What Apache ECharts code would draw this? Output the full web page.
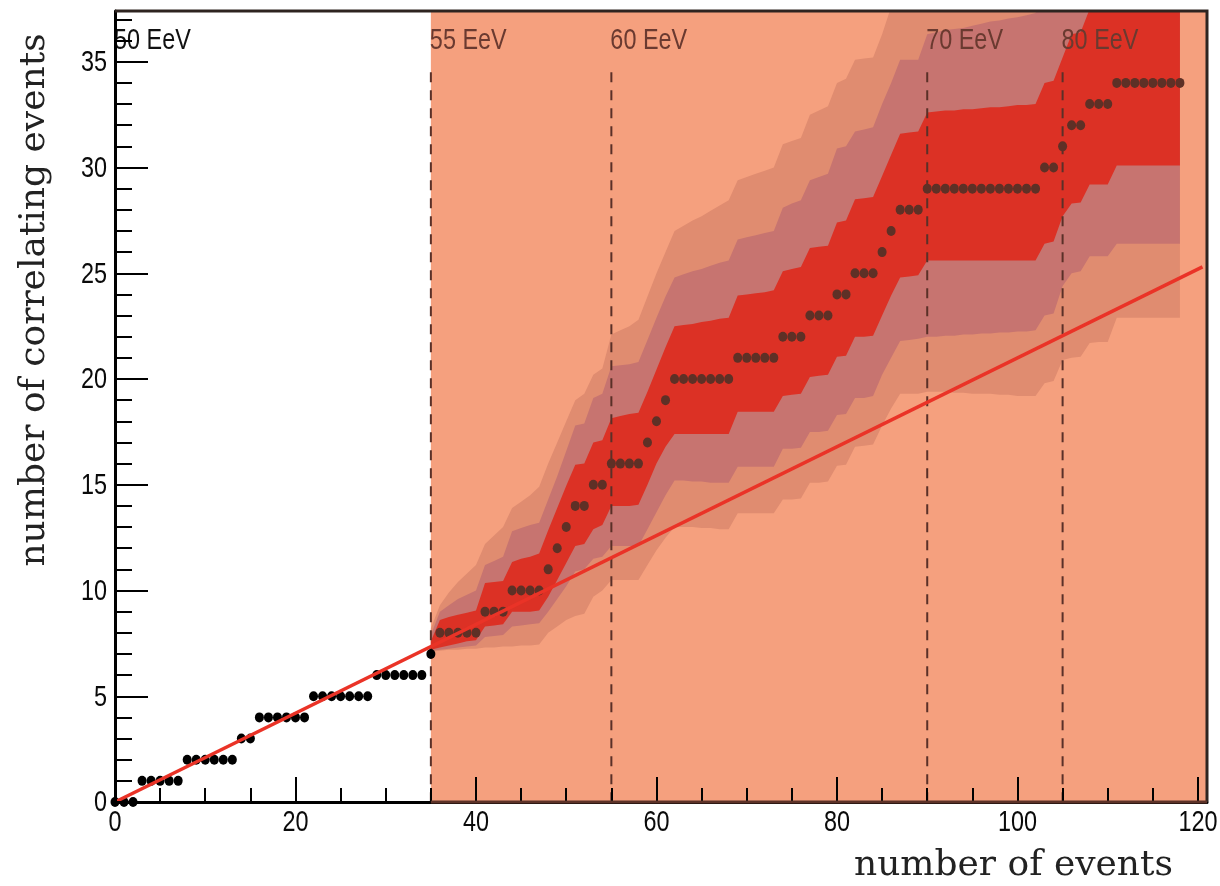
<!DOCTYPE html>
<html>
<head>
<meta charset="utf-8">
<script src="https://cdn.jsdelivr.net/npm/echarts@6/dist/echarts.min.js"></script>
<style>
  html, body { margin: 0; padding: 0; background: #ffffff; }
  #chart { width: 1220px; height: 886px; }
</style>
</head>
<body>
<div id="chart"></div>
<script>
// Axis extents
const xMax = 121;
const yMax = 37.4;

// Tick label values
const xTickValues = [0, 20, 40, 60, 80, 100, 120];
const yTickValues = [0, 5, 10, 15, 20, 25, 30, 35];

// Cumulative number of correlating events after N events (N = 0 .. 118)
const correlating = [
  0, 0, 0,
  1, 1, 1, 1, 1,
  2, 2, 2, 2, 2, 2,
  3, 3,
  4, 4, 4, 4, 4, 4,
  5, 5, 5, 5, 5, 5, 5,
  6, 6, 6, 6, 6, 6,
  7,
  8, 8, 8, 8, 8,
  9, 9, 9,
  10, 10, 10, 10,
  11, 12, 13,
  14, 14,
  15, 15,
  16, 16, 16, 16,
  17, 18, 19,
  20, 20, 20, 20, 20, 20, 20,
  21, 21, 21, 21, 21,
  22, 22, 22,
  23, 23, 23,
  24, 24,
  25, 25, 25,
  26, 27,
  28, 28, 28,
  29, 29, 29, 29, 29, 29, 29, 29, 29, 29, 29, 29, 29,
  30, 30,
  31,
  32, 32,
  33, 33, 33,
  34, 34, 34, 34, 34, 34, 34, 34
];

// Confidence bands, one value per event from N = 35 to N = 118
const bandStart = 35;
const innerUpper = [
  7.6,
  8.6, 8.75, 8.85, 8.95, 9.05,
  10.35, 10.4, 10.45,
  11.35, 11.5, 11.6, 11.75,
  12.85, 13.9, 14.95,
  15.95, 16.0,
  17.0, 17.1,
  18.15, 18.25, 18.35, 18.4,
  19.4, 20.45, 21.5,
  22.5, 22.55, 22.6, 22.7, 22.75, 22.85, 22.9,
  23.95, 24.0, 24.05, 24.1, 24.2,
  25.1, 25.2, 25.3,
  26.2, 26.25, 26.3,
  27.4, 27.5,
  28.5, 28.55, 28.6,
  29.6, 30.6,
  31.6, 31.65, 31.7,
  32.6, 32.65, 32.7, 32.7, 32.75, 32.75, 32.8, 32.85, 32.85, 32.9, 32.95, 32.95, 33.0,
  34.0, 34.1,
  35.2,
  36.3, 36.4,
  37.5, 37.6, 37.7,
  38.8, 38.9, 39.0, 39.1, 39.2, 39.3, 39.4, 39.5
];
const innerLower = [
  7.2,
  7.3, 7.4, 7.5, 7.6, 7.65,
  8.3, 8.35, 8.4,
  9.0, 9.0, 9.0, 9.05,
  9.7, 10.5, 11.3,
  12.1, 12.2,
  12.9, 13.1,
  14.0, 14.0, 14.0, 14.05,
  15.0, 16.0, 16.8,
  17.4, 17.4, 17.4, 17.4, 17.4, 17.4, 17.4,
  18.45, 18.45, 18.45, 18.45, 18.45,
  19.2, 19.25, 19.3,
  20.1, 20.15, 20.2,
  21.05, 21.1,
  22.0, 22.0, 22.05,
  23.0, 23.95,
  24.8, 24.85, 24.9,
  25.6, 25.6, 25.6, 25.6, 25.6, 25.6, 25.6, 25.6, 25.6, 25.6, 25.6, 25.6, 25.6,
  26.4, 26.5,
  27.7,
  28.3, 28.35,
  29.2, 29.2, 29.2,
  30.1, 30.1, 30.1, 30.1, 30.1, 30.1, 30.1, 30.1
];
const midUpper = [
  7.9,
  9.0, 9.3, 9.6, 9.8, 10.0,
  11.2, 11.4, 11.6,
  12.8, 12.95, 13.1, 13.2,
  14.3, 15.4, 16.6,
  17.8, 17.9,
  19.1, 19.3,
  20.6, 20.65, 20.7, 20.8,
  21.85, 22.9, 23.9,
  24.8, 24.95, 25.1, 25.2, 25.35, 25.5, 25.6,
  26.6, 26.7, 26.8, 26.9, 27.0,
  28.1, 28.3, 28.45,
  29.4, 29.55, 29.7,
  30.9, 31.0,
  31.7, 31.8, 31.9,
  33.0, 34.0,
  35.1, 35.1, 35.1,
  36.3, 36.4, 36.5, 36.55, 36.6, 36.7, 36.8, 36.9, 36.95, 37.05, 37.1, 37.2, 37.3,
  38.4, 38.5,
  39.6,
  40.7, 40.8,
  41.9, 42.0, 42.1,
  43.0, 43.0, 43.0, 43.0, 43.0, 43.0, 43.0, 43.0
];
const midLower = [
  7.15,
  7.2, 7.25, 7.3, 7.35, 7.4,
  7.8, 7.85, 7.9,
  8.3, 8.35, 8.4, 8.45,
  9.0, 9.6, 10.2,
  10.9, 11.0,
  11.5, 11.6,
  12.1, 12.1, 12.1, 12.1,
  12.9, 13.7, 14.5,
  15.2, 15.2, 15.15, 15.15, 15.1, 15.1, 15.1,
  15.85, 15.85, 15.85, 15.85, 15.85,
  16.7, 16.7, 16.75,
  17.5, 17.5, 17.55,
  18.3, 18.35,
  19.1, 19.1, 19.2,
  20.2, 21.0,
  21.8, 21.85, 21.9,
  22.0, 22.0, 22.05, 22.05, 22.1, 22.1, 22.15, 22.15, 22.2, 22.2, 22.25, 22.25, 22.3,
  23.0, 23.1,
  24.4,
  25.0, 25.1,
  25.8, 25.8, 25.8,
  26.4, 26.4, 26.4, 26.4, 26.4, 26.4, 26.4, 26.4
];
const outerUpper = [
  8.2,
  9.3, 9.9, 10.4, 10.8, 11.2,
  12.2, 12.6, 13.0,
  13.9, 14.2, 14.5, 14.9,
  16.0, 17.0, 18.0,
  19.0, 19.3,
  20.2, 20.5,
  22.1, 22.3, 22.5, 22.8,
  23.9, 25.0, 26.0,
  27.0, 27.25, 27.5, 27.7, 27.95, 28.2, 28.45,
  29.4, 29.55, 29.7, 29.85, 30.0,
  31.1, 31.25, 31.4,
  32.5, 32.7, 32.9,
  34.0, 34.2,
  35.1, 35.15, 35.2,
  36.3, 37.6,
  38.7, 38.8, 38.9,
  40, 40, 40, 40, 40, 40, 40, 40, 40, 40, 40, 40, 40,
  41, 41,
  41,
  41, 41,
  41, 41, 41,
  41, 41, 41, 41, 41, 41, 41, 41
];
const outerLower = [
  7.1,
  7.15, 7.2, 7.2, 7.25, 7.25,
  7.3, 7.3, 7.35,
  7.35, 7.4, 7.4, 7.45,
  8.0, 8.3, 8.6,
  8.8, 8.9,
  9.7, 10.0,
  10.5, 10.5, 10.5, 10.5,
  11.2, 11.9, 12.5,
  13.0, 13.0, 13.0, 12.95, 12.95, 12.9, 12.9,
  13.65, 13.65, 13.65, 13.65, 13.65,
  14.3, 14.3, 14.35,
  15.1, 15.1, 15.15,
  15.9, 15.95,
  16.8, 16.85, 16.9,
  17.8, 18.6,
  19.3, 19.3, 19.3,
  19.4, 19.4, 19.4, 19.35, 19.35, 19.3, 19.3, 19.3, 19.25, 19.25, 19.2, 19.2, 19.2,
  19.8, 19.9,
  20.9,
  21.0, 21.05,
  21.7, 21.75, 21.75,
  22.9, 22.9, 22.9, 22.9, 22.9, 22.9, 22.9, 22.9
];

// Isotropic expectation line (end points)
const isoLine = [[0, 0], [120.5, 25.3]];

// Energy thresholds: event number where each cut begins
const thresholdX = [0, 35, 55, 90, 105];
const thresholdLabels = ['50 EeV', '55 EeV', '60 EeV', '70 EeV', '80 EeV'];

// Condensed sans for numbers, serif for axis titles
const numFont = "'Liberation Sans', Arial, Helvetica, sans-serif";
const numSize = 30;
const numSqueeze = 0.78;
const titleFont = "'DejaVu Serif', 'Liberation Serif', serif";

const colors = {
  scanRegion: '#f5a07e',
  outer: '#e08c70',
  mid: '#c77470',
  inner: '#dc3125',
  fit: '#ea3327',
  dotsBefore: '#000000',
  dotsAfter: '#5e3026',
  dash: '#5a3028',
  labelAfter: '#6a3a30',
  axis: '#000000',
  axisInScan: '#5c3228',
  frame: '#2e2420',
  tickText: '#0a0a0a'
};

function bandSeries(upper, lower, color, z) {
  return {
    type: 'custom',
    coordinateSystem: 'cartesian2d',
    clip: true,
    silent: true,
    z: z,
    data: [[bandStart, lower[0]]],
    renderItem: function (params, api) {
      const pts = [];
      for (let i = 0; i < upper.length; i++) pts.push(api.coord([bandStart + i, upper[i]]));
      for (let i = lower.length - 1; i >= 0; i--) pts.push(api.coord([bandStart + i, lower[i]]));
      return { type: 'polygon', shape: { points: pts }, style: { fill: color } };
    }
  };
}

// narrow sans text, squeezed horizontally around its anchor point
function squeezedText(x, y, text, fill, align) {
  return {
    type: 'text',
    x: x, y: y,
    scaleX: numSqueeze, scaleY: 1,
    style: {
      text: text,
      fill: fill,
      font: numSize + 'px ' + numFont,
      textAlign: align,
      textVerticalAlign: 'middle'
    }
  };
}

const points = correlating.map((y, x) => [x, y]);
const dotsBefore = points.filter(p => p[0] <= bandStart);
const dotsAfter = points.filter(p => p[0] > bandStart);

const chart = echarts.init(document.getElementById('chart'), null, { renderer: 'canvas' });

const option = {
  animation: false,
  backgroundColor: '#ffffff',
  grid: { left: 115, right: 13, top: 11, bottom: 84, show: false },
  xAxis: [
    {
      type: 'value', min: 0, max: xMax, interval: 5, position: 'bottom', z: 10,
      axisLine: { show: true, lineStyle: { color: colors.axis, width: 3 } },
      axisTick: { show: true, inside: true, length: 14, lineStyle: { color: colors.axis, width: 2 } },
      axisLabel: { show: false },
      splitLine: { show: false }
    },
    {
      type: 'value', min: 0, max: xMax, interval: 20, position: 'bottom', z: 10,
      axisLine: { show: false },
      axisTick: { show: true, inside: true, length: 25, lineStyle: { color: colors.axis, width: 2 } },
      axisLabel: { show: false },
      splitLine: { show: false }
    }
  ],
  yAxis: [
    {
      type: 'value', min: 0, max: yMax, interval: 1, position: 'left', z: 10,
      axisLine: { show: true, lineStyle: { color: colors.axis, width: 3 } },
      axisTick: { show: true, inside: true, length: 17, lineStyle: { color: colors.axis, width: 2 } },
      axisLabel: { show: false },
      splitLine: { show: false }
    },
    {
      type: 'value', min: 0, max: yMax, interval: 5, position: 'left', z: 10,
      axisLine: { show: false },
      axisTick: { show: true, inside: true, length: 33, lineStyle: { color: colors.axis, width: 2 } },
      axisLabel: { show: false },
      splitLine: { show: false }
    }
  ],
  graphic: [
    {
      type: 'text', x: 1173, y: 866, z: 20,
      style: { text: 'number of events', font: '36px ' + titleFont, fill: '#222', textAlign: 'right', textVerticalAlign: 'middle' }
    },
    {
      type: 'text', x: 35, y: 300, rotation: Math.PI / 2, z: 20,
      style: { text: 'number of correlating events', font: '36px ' + titleFont, fill: '#222', textAlign: 'center', textVerticalAlign: 'middle' }
    }
  ],
  series: [
    // shaded scan region
    {
      type: 'custom', coordinateSystem: 'cartesian2d', clip: true, silent: true, z: 1,
      data: [[bandStart, 0]],
      renderItem: function (params, api) {
        const a = api.coord([bandStart, yMax]);
        const b = api.coord([xMax, 0]);
        return { type: 'rect', shape: { x: a[0], y: a[1], width: b[0] - a[0], height: b[1] - a[1] }, style: { fill: colors.scanRegion } };
      }
    },
    bandSeries(outerUpper, outerLower, colors.outer, 2),
    bandSeries(midUpper, midLower, colors.mid, 3),
    bandSeries(innerUpper, innerLower, colors.inner, 4),
    // threshold dashed lines
    {
      type: 'custom', coordinateSystem: 'cartesian2d', clip: false, silent: true, z: 5,
      data: thresholdX.filter(x => x > 0).map(x => [x, 34.5]),
      renderItem: function (params, api) {
        const top = api.coord([api.value(0), api.value(1)]);
        const bottom = api.coord([api.value(0), 0]);
        return {
          type: 'line',
          shape: { x1: top[0], y1: top[1], x2: bottom[0], y2: bottom[1] },
          style: { stroke: colors.dash, lineWidth: 2, lineDash: [10, 8] }
        };
      }
    },
    // threshold labels
    {
      type: 'custom', coordinateSystem: 'cartesian2d', clip: false, silent: true, z: 6,
      data: thresholdX.map((x, i) => [x, 36.0, i]),
      renderItem: function (params, api) {
        const p = api.coord([api.value(0), api.value(1)]);
        const idx = api.value(2);
        return squeezedText(p[0] - 1, p[1], thresholdLabels[idx], idx === 0 ? '#111' : colors.labelAfter, 'left');
      }
    },
    // x tick labels
    {
      type: 'custom', coordinateSystem: 'cartesian2d', clip: false, silent: true, z: 11,
      data: xTickValues.map(v => [v, 0]),
      renderItem: function (params, api) {
        const p = api.coord([api.value(0), 0]);
        return squeezedText(p[0], p[1] + 21, String(api.value(0)), colors.tickText, 'center');
      }
    },
    // y tick labels
    {
      type: 'custom', coordinateSystem: 'cartesian2d', clip: false, silent: true, z: 11,
      data: yTickValues.map(v => [0, v]),
      renderItem: function (params, api) {
        const p = api.coord([0, api.value(1)]);
        return squeezedText(p[0] - 8, p[1] + 1, String(api.value(1)), colors.tickText, 'right');
      }
    },
    {
      type: 'scatter', z: 7, silent: true,
      symbol: 'circle', symbolSize: [9, 10],
      itemStyle: { color: colors.dotsBefore, opacity: 1 },
      data: dotsBefore
    },
    {
      type: 'scatter', z: 7, silent: true,
      symbol: 'circle', symbolSize: [9, 10],
      itemStyle: { color: colors.dotsAfter, opacity: 1 },
      data: dotsAfter
    },
    {
      type: 'line', z: 8, silent: true,
      showSymbol: false, symbol: 'none',
      lineStyle: { color: colors.fit, width: 3.5 },
      data: isoLine
    },
    // frame: top and right edges
    {
      type: 'custom', coordinateSystem: 'cartesian2d', clip: false, silent: true, z: 12,
      data: [[0, yMax]],
      renderItem: function (params, api) {
        const a = api.coord([0, yMax]);
        const b = api.coord([xMax, yMax]);
        const c = api.coord([xMax, 0]);
        return {
          type: 'polyline',
          shape: { points: [a, b, c] },
          style: { stroke: colors.frame, lineWidth: 3, fill: null }
        };
      }
    },
    // bottom axis segment inside the scan region
    {
      type: 'custom', coordinateSystem: 'cartesian2d', clip: false, silent: true, z: 13,
      data: [[bandStart, 0]],
      renderItem: function (params, api) {
        const a = api.coord([bandStart, 0]);
        const b = api.coord([xMax, 0]);
        return {
          type: 'line',
          shape: { x1: a[0], y1: a[1], x2: b[0], y2: b[1] },
          style: { stroke: colors.axisInScan, lineWidth: 3 }
        };
      }
    }
  ]
};

chart.setOption(option);
</script>
</body>
</html>
